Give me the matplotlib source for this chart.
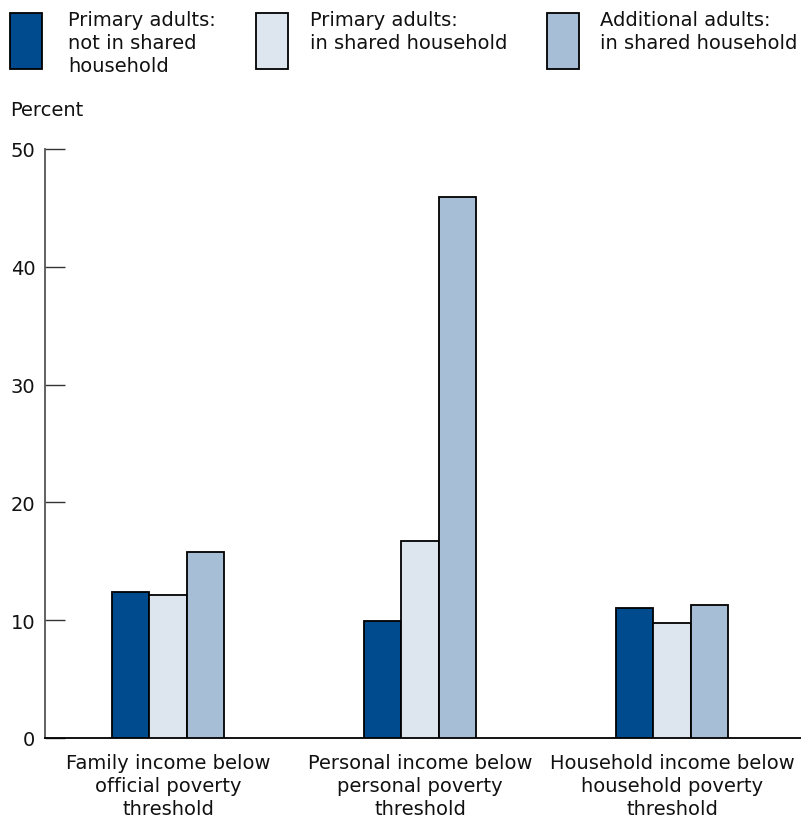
import matplotlib
matplotlib.use("Agg")
import matplotlib.pyplot as plt
from matplotlib.patches import Rectangle
import numpy as np

categories = ["Family income below\nofficial poverty\nthreshold",
              "Personal income below\npersonal poverty\nthreshold",
              "Household income below\nhousehold poverty\nthreshold"]
series_names = ["Primary adults:\nnot in shared\nhousehold",
                "Primary adults:\nin shared household",
                "Additional adults:\nin shared household"]
primary_not_shared = [12.4, 9.9, 11.0]
primary_shared = [12.1, 16.7, 9.8]
additional_shared = [15.8, 45.9, 11.3]
yticks = [0, 10, 20, 30, 40, 50]

colors = ["#004B8D", "#DDE5EF", "#A6BFD7"]
series = [primary_not_shared, primary_shared, additional_shared]

W, H = 801, 828
fig = plt.figure(figsize=(W / 100, H / 100), dpi=100)
ax = fig.add_axes([45 / W, (H - 739) / H, (801 - 45) / W, (739 - 150) / H])

x = np.arange(len(categories))
bw = 0.149
for i, (vals, c) in enumerate(zip(series, colors)):
    ax.bar(x + (i - 1) * bw, vals, bw, color=c, edgecolor="black", linewidth=1.3, zorder=3)

ax.set_xlim(-0.488, 2.512)
ax.set_ylim(0, 50)
ax.set_yticks(yticks)
ax.set_yticklabels([str(t) for t in yticks], fontsize=14, color="#111111")
ax.tick_params(axis="y", direction="in", length=14.4, width=1, color="#333333", pad=7)
ax.set_xticks(x)
ax.set_xticklabels(categories, fontsize=14, linespacing=1.25, color="#111111")
ax.tick_params(axis="x", length=0, pad=11)
for s in ["top", "right"]:
    ax.spines[s].set_visible(False)
ax.spines["left"].set_color("#555555")
ax.spines["left"].set_linewidth(1.3)
ax.spines["bottom"].set_color("black")
ax.spines["bottom"].set_linewidth(1.3)

fig.text(10 / W, 1 - 110 / H, "Percent", fontsize=14, va="center", ha="left", color="#111111")

# Legend (manual)
leg_x = [10, 256, 547]
text_x = [68, 310, 600]
for lx, tx, c, name in zip(leg_x, text_x, colors, series_names):
    fig.patches.append(Rectangle((lx / W, 1 - 70 / H), 32 / W, 56 / H,
                                 facecolor=c, edgecolor="black", linewidth=1.3,
                                 transform=fig.transFigure, figure=fig))
    fig.text(tx / W, 1 - 11 / H, name, fontsize=14, va="top", ha="left",
             linespacing=1.25, color="#111111")

fig.savefig("out.png", dpi=100)
